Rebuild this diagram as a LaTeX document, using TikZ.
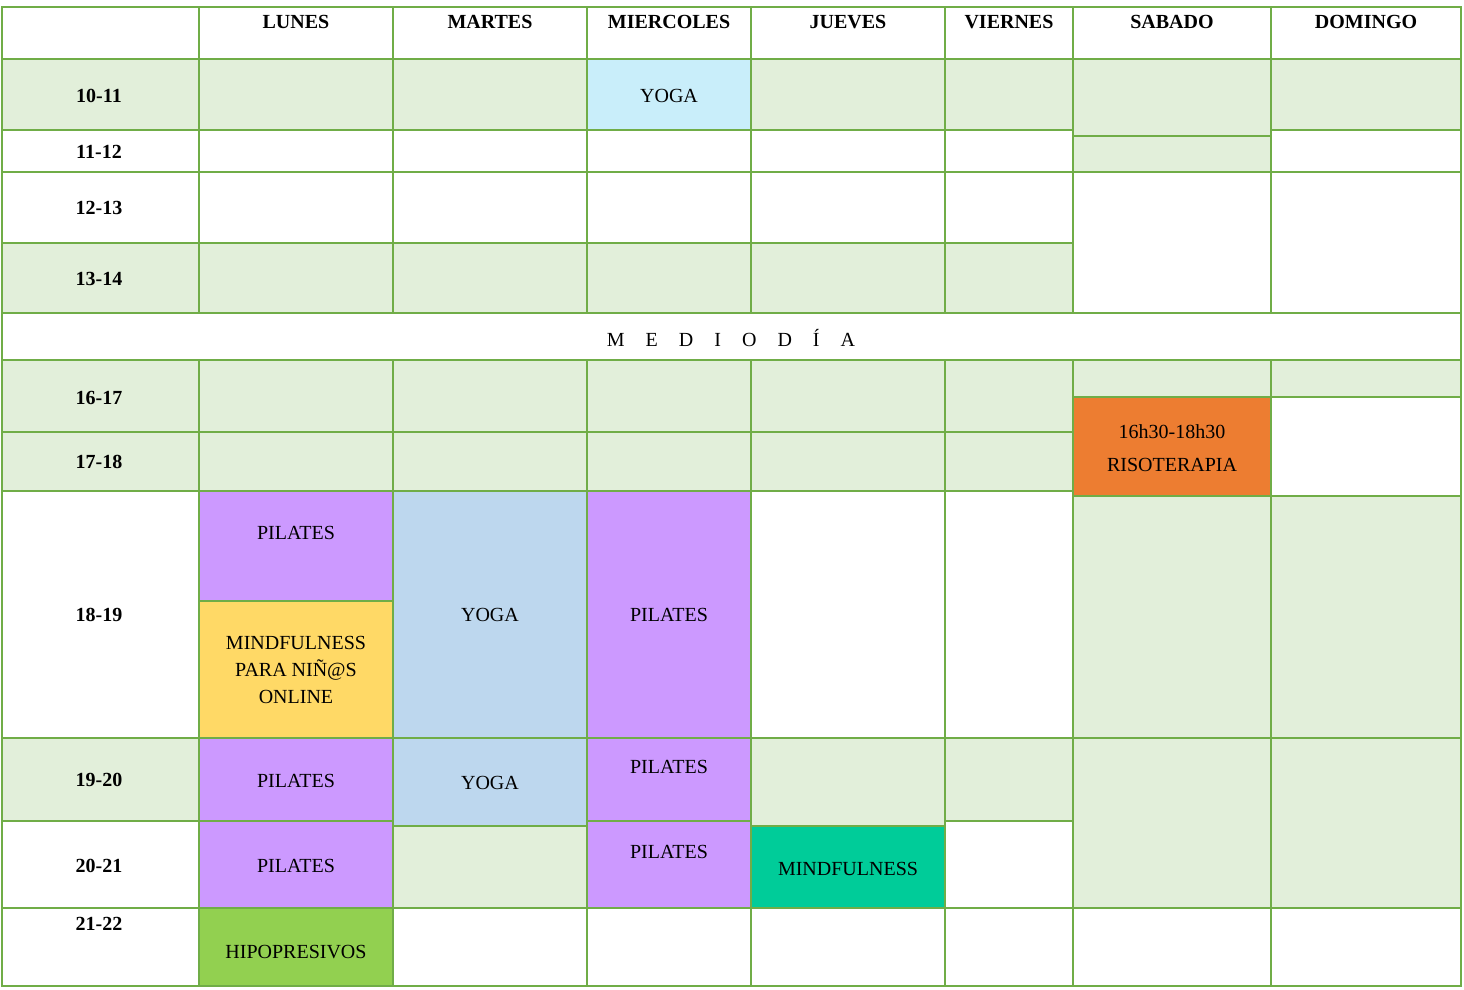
\documentclass[tikz,border=0pt]{standalone}
\usepackage{fontspec}
\setmainfont{Liberation Serif}
\definecolor{gr}{HTML}{E2EFDA}
\definecolor{bd}{HTML}{70AD47}
\definecolor{pu}{HTML}{CC99FF}
\definecolor{ye}{HTML}{FFD966}
\definecolor{bl}{HTML}{BDD7EE}
\definecolor{cy}{HTML}{C9EEFA}
\definecolor{te}{HTML}{00CC99}
\definecolor{lg}{HTML}{92D050}
\definecolor{or}{HTML}{ED7D31}
\newcommand\cel[5]{\filldraw[fill=#5,draw=bd,line width=1.2pt] (#1,#2) rectangle (#3,#4);}
\tikzset{tx/.style={font=\fontsize{20}{27}\selectfont,align=center,inner sep=0pt},
 hd/.style={tx,font=\fontsize{20}{27}\selectfont\bfseries}}
\begin{document}
\begin{tikzpicture}[x=1pt,y=-1pt]
\useasboundingbox (0,0) rectangle (1464,989);
\fill[white] (0,0) rectangle (1464,989);
% header
\foreach \a/\b in {2/199,199/393,393/587,587/751,751/945,945/1073,1073/1271,1271/1461}{\cel{\a}{7}{\b}{59}{white}}
% morning rows
\foreach \a/\b in {2/199,199/393,393/587,587/751,751/945,945/1073}{
 \cel{\a}{59}{\b}{130}{gr}\cel{\a}{130}{\b}{172}{white}\cel{\a}{172}{\b}{243}{white}\cel{\a}{243}{\b}{313}{gr}}
\cel{1073}{59}{1271}{136}{gr}\cel{1073}{136}{1271}{172}{gr}\cel{1073}{172}{1271}{313}{white}
\cel{1271}{59}{1461}{130}{gr}\cel{1271}{130}{1461}{172}{white}\cel{1271}{172}{1461}{313}{white}
\cel{587}{59}{751}{130}{cy}
\cel{2}{313}{1461}{360}{white}
% afternoon
\foreach \a/\b in {2/199,199/393,393/587,587/751,751/945,945/1073}{
 \cel{\a}{360}{\b}{432}{gr}\cel{\a}{432}{\b}{491}{gr}\cel{\a}{491}{\b}{738}{white}}
\foreach \a/\b in {2/199,199/393,393/587,587/751,751/945,945/1073,1073/1271,1271/1461}{\cel{\a}{908}{\b}{986}{white}}
\cel{2}{738}{199}{821}{gr}\cel{2}{821}{199}{908}{white}
\cel{1073}{360}{1271}{397}{gr}\cel{1073}{397}{1271}{496}{or}\cel{1073}{496}{1271}{738}{gr}\cel{1073}{738}{1271}{908}{gr}
\cel{1271}{360}{1461}{397}{gr}\cel{1271}{397}{1461}{496}{white}\cel{1271}{496}{1461}{738}{gr}\cel{1271}{738}{1461}{908}{gr}
\cel{199}{491}{393}{601}{pu}\cel{199}{601}{393}{738}{ye}\cel{199}{738}{393}{821}{pu}\cel{199}{821}{393}{908}{pu}\cel{199}{908}{393}{986}{lg}
\cel{393}{491}{587}{738}{bl}\cel{393}{738}{587}{826}{bl}\cel{393}{826}{587}{908}{gr}
\cel{587}{491}{751}{738}{pu}\cel{587}{738}{751}{821}{pu}\cel{587}{821}{751}{908}{pu}
\cel{751}{738}{945}{826}{gr}\cel{751}{826}{945}{908}{te}
\cel{945}{738}{1073}{821}{gr}\cel{945}{821}{1073}{908}{white}
\draw[bd,line width=2.5pt] (2,59)--(1461,59);
% header text
\node[hd] (hl) at (296,22) {LUNES};
\node[hd] (hm) at (490,22) {MARTES};
\node[hd] (hx) at (669,22) {MIERCOLES};
\node[hd] (hj) at (848,22) {JUEVES};
\node[hd] (hv) at (1009,22) {VIERNES};
\node[hd] (hs) at (1172,22) {SABADO};
\node[hd] (hd) at (1366,22) {DOMINGO};
\node[hd] (r1) at (99,96) {10-11};
\node[hd] (r2) at (99,152) {11-12};
\node[hd] (r3) at (99,208) {12-13};
\node[hd] (r4) at (99,279) {13-14};
\node[hd] (r5) at (99,398) {16-17};
\node[hd] (r6) at (99,462) {17-18};
\node[hd] (r7) at (99,615) {18-19};
\node[hd] (r8) at (99,780) {19-20};
\node[hd] (r9) at (99,866) {20-21};
\node[hd] (r10) at (99,924) {21-22};
\node[tx] (md) at (731,338) {M\hspace{1.05em}E\hspace{1.05em}D\hspace{1.05em}I\hspace{1.05em}O\hspace{1.05em}D\hspace{1.05em}Í\hspace{1.05em}A};
\node[tx] (y1) at (669,96) {YOGA};
\node[tx] (ri) at (1172,448) {16h30-18h30\\[6pt]RISOTERAPIA};
\node[tx] (p1) at (296,533) {PILATES};
\node[tx] (mi) at (296,670) {MINDFULNESS\\PARA NIÑ@S\\ONLINE};
\node[tx] (y2) at (490,615) {YOGA};
\node[tx] (p2) at (669,615) {PILATES};
\node[tx] (p3) at (296,781) {PILATES};
\node[tx] (y3) at (490,783) {YOGA};
\node[tx] (p4) at (669,767) {PILATES};
\node[tx] (p5) at (296,866) {PILATES};
\node[tx] (p6) at (669,852) {PILATES};
\node[tx] (mf) at (848,869) {MINDFULNESS};
\node[tx] (hi) at (296,952) {HIPOPRESIVOS};
\end{tikzpicture}
\end{document}
